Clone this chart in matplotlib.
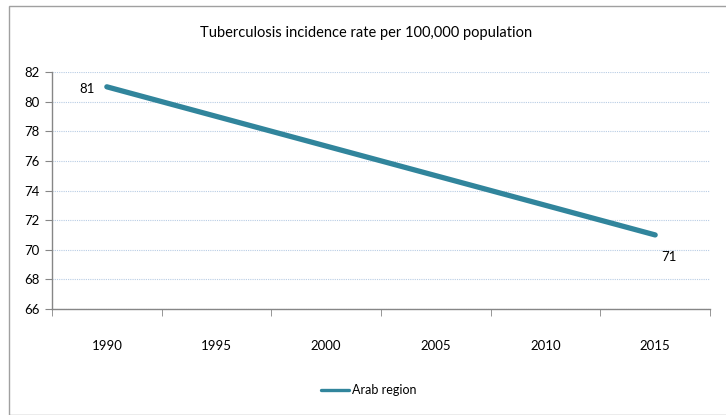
import matplotlib
matplotlib.use("Agg")
import matplotlib.pyplot as plt
from matplotlib.patches import Rectangle
from matplotlib.ticker import FixedLocator, MultipleLocator

categories = ["1990", "1995", "2000", "2005", "2010", "2015"]
series_name = "Arab region"
point_years = ["1990", "2015"]
point_values = [81, 71]

plt.rcParams['font.family'] = ['Lato', 'DejaVu Sans']

fig = plt.figure(figsize=(7.26, 4.15), dpi=100)
fig.patches.append(Rectangle((9/726, 0), 1, 1 - 6/415, transform=fig.transFigure,
                             fill=False, edgecolor='#a0a0a0', linewidth=1.0))
ax = fig.add_axes([52/726, 1 - 309/415, (710 - 52)/726, (309 - 72)/415])

xs = [categories.index(y) for y in point_years]
line_color = '#31859C'
ax.plot(xs, point_values, color=line_color, linewidth=3.8, solid_capstyle='round',
        label=series_name)

ax.annotate(str(point_values[0]), (xs[0], point_values[0]), xytext=(-9, -1.5),
            textcoords='offset points', ha='right', va='center', fontsize=9.5)
ax.annotate(str(point_values[1]), (xs[1], point_values[1]), xytext=(4.5, -16),
            textcoords='offset points', ha='left', va='center', fontsize=9.5)

ax.set_xlim(-0.5, len(categories) - 0.5)
ax.set_ylim(66, 82)
ax.yaxis.set_major_locator(MultipleLocator(2))
ax.set_xticks(range(len(categories)))
ax.set_xticklabels(categories)
ax.xaxis.set_minor_locator(FixedLocator([i - 0.5 for i in range(len(categories) + 1)]))
ax.tick_params(axis='x', which='major', length=0, pad=22, labelsize=9.5)
ax.tick_params(axis='x', which='minor', length=5, color='#868686', direction='out')
ax.tick_params(axis='y', length=5, color='#868686', labelsize=9.5, pad=4)

ax.grid(axis='y', linestyle=(0, (1, 1)), color='#b8cce4', linewidth=0.8)
ax.set_axisbelow(True)
for s in ['top', 'right']:
    ax.spines[s].set_visible(False)
for s in ['left', 'bottom']:
    ax.spines[s].set_color('#868686')
    ax.spines[s].set_linewidth(1.0)

fig.text(366/726, 1 - 33/415, "Tuberculosis incidence rate per 100,000 population",
         ha='center', va='center', fontsize=10.5)

leg = fig.legend(loc='center', bbox_to_anchor=(369/726, 1 - 390/415), frameon=False,
                 fontsize=9, handlelength=2.2, handletextpad=0.25)
for h in leg.get_lines():
    h.set_linewidth(2.4)

fig.savefig("out.png", dpi=100)
